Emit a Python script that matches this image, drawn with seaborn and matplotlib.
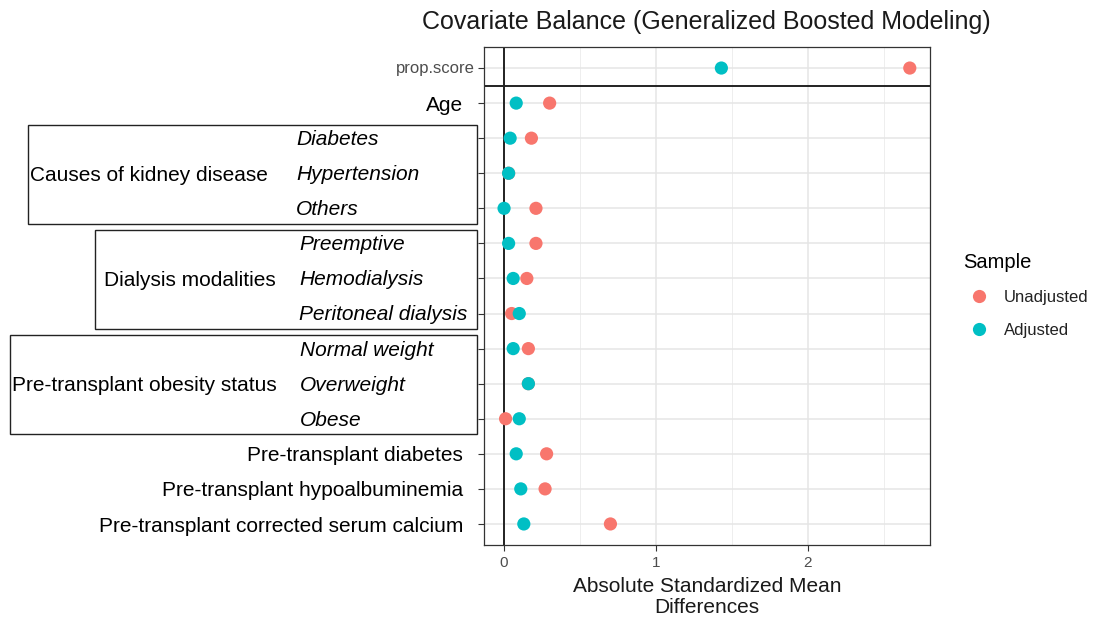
import matplotlib
matplotlib.use("Agg")
import matplotlib.pyplot as plt
import matplotlib.transforms as mtransforms
from matplotlib.patches import Rectangle
from matplotlib.lines import Line2D
import seaborn as sns
import pandas as pd

# ---------------- data ----------------
variables = ["prop.score", "Age", "Diabetes", "Hypertension", "Others",
             "Preemptive", "Hemodialysis", "Peritoneal dialysis",
             "Normal weight", "Overweight", "Obese",
             "Pre-transplant diabetes", "Pre-transplant hypoalbuminemia",
             "Pre-transplant corrected serum calcium"]
unadjusted = [2.67, 0.30, 0.18, 0.03, 0.21, 0.21, 0.15, 0.05, 0.16, 0.16, 0.01, 0.28, 0.27, 0.70]
adjusted = [1.43, 0.08, 0.04, 0.03, 0.00, 0.03, 0.06, 0.10, 0.06, 0.16, 0.10, 0.08, 0.11, 0.13]
samples = ["Unadjusted", "Adjusted"]
colors = ["#F8766D", "#00BFC4"]
x_ticks = [0, 1, 2]
title = "Covariate Balance (Generalized Boosted Modeling)"
x_label = "Absolute Standardized Mean\nDifferences"
groups = [("Causes of kidney disease", ["Diabetes", "Hypertension", "Others"]),
          ("Dialysis modalities", ["Preemptive", "Hemodialysis", "Peritoneal dialysis"]),
          ("Pre-transplant obesity status", ["Normal weight", "Overweight", "Obese"])]

df = pd.DataFrame({
    "var": variables * 2,
    "value": unadjusted + adjusted,
    "Sample": [samples[0]] * len(variables) + [samples[1]] * len(variables),
})

# ---------------- figure ----------------
sns.set_theme(style="white")
plt.rcParams["font.family"] = ["Liberation Sans", "DejaVu Sans"]
plt.rcParams["text.color"] = "black"

W, H = 1098, 623
fig = plt.figure(figsize=(W / 100, H / 100), dpi=100)
ax = fig.add_axes([484 / W, 1 - 545 / H, (930 - 484) / W, (545 - 47) / H])

# grid
for xv in [0.5, 1.5, 2.5]:
    ax.axvline(xv, color="#EBEBEB", lw=0.6, zorder=0)
for xv in x_ticks:
    ax.axvline(xv, color="#E5E5E5", lw=1.1, zorder=0)
for i in range(len(variables)):
    ax.axhline(i, color="#E5E5E5", lw=1.1, zorder=0)

sns.stripplot(data=df, x="value", y="var", hue="Sample", order=variables,
              hue_order=samples, palette=colors, jitter=False, dodge=False,
              size=9.5, linewidth=0, ax=ax, legend=False, zorder=3)

ax.axvline(0, color="#222222", lw=1.4, zorder=2)
ax.axhline(0.5, color="#222222", lw=1.4, zorder=2)

ax.set_xlim(-0.132, 2.803)
ax.set_ylim(13.6, -0.6)
ax.set_xticks(x_ticks)
ax.set_xticklabels([str(t) for t in x_ticks], fontsize=11, color="#4D4D4D")
ax.set_yticks(range(len(variables)))
ax.set_yticklabels([""] * len(variables))
ax.tick_params(axis="both", length=4, width=0.8, color="#333333", pad=4,
               left=True, bottom=True)
ax.set_xlabel(x_label, fontsize=15, color="#1a1a1a", labelpad=5, linespacing=1.15)
ax.set_ylabel("")
for s in ax.spines.values():
    s.set_color("#333333")
    s.set_linewidth(0.9)

fig.text(706 / W, 1 - 22 / H, title, ha="center", va="center", fontsize=18, color="#1a1a1a")

# custom y labels
tr = mtransforms.blended_transform_factory(fig.transFigure, ax.transData)
idx = {v: i for i, v in enumerate(variables)}
ax.text(475 / W, idx["prop.score"], "prop.score", transform=tr,
        ha="right", va="center", fontsize=12, color="#4D4D4D")

grouped = {v for _, vs in groups for v in vs}
for v in variables[1:]:
    if v not in grouped:
        ax.text(463 / W, idx[v] + 0.06, v, transform=tr, ha="right", va="center", fontsize=15)

box_x = [(28, 477), (95, 477), (10, 477)]
label_x = [30, 104, 12]
sub_x = [296, 299, 300]
for (gname, vs), (bx0, bx1), lx, sx in zip(groups, box_x, label_x, sub_x):
    i0, i1 = idx[vs[0]], idx[vs[-1]]
    ax.add_patch(Rectangle((bx0 / W, i0 - 0.38), (bx1 - bx0) / W, (i1 - i0) + 0.82,
                           transform=tr, fill=False, edgecolor="#222222",
                           lw=1.0, clip_on=False))
    ax.text(lx / W, idx[vs[1]] + 0.06, gname, transform=tr, ha="left", va="center", fontsize=15)
    for v in vs:
        ax.text(sx / W, idx[v] + 0.04, v, transform=tr, ha="left", va="center",
                fontsize=15, style="italic")

# legend
handles = [Line2D([0], [0], marker="o", ls="", markersize=9.5, markerfacecolor=c,
                  markeredgewidth=0) for c in colors]
leg = fig.legend(handles, samples, title="Sample", loc="upper left",
                 bbox_to_anchor=(956 / W, 1 - 246 / H), frameon=False,
                 fontsize=12, title_fontsize=14.5, handletextpad=0.45,
                 labelspacing=1.1, borderaxespad=0)
leg._legend_box.align = "left"
for t in leg.get_texts():
    t.set_color("#222222")

fig.savefig("out.png", dpi=100)
